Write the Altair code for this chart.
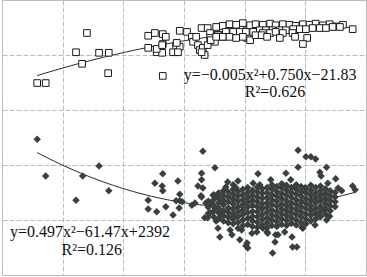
import altair as alt
import pandas as pd

# ---- Series 1: open squares (upper group) ----
top_x = [5.8, 7.2, 14.0, 12.2, 13.2, 16.0, 17.6, 17.5,
         24.1, 25.2, 26.5, 27.0, 26.5, 24.1, 25.5, 26.4, 26.5,
         29.3, 28.7, 29.3, 28.2, 29.0, 25.5, 26.4, 28.8,
         30.5, 31.3, 31.5, 32.3, 32.6, 33.1, 32.9, 33.9, 34.3, 34.3, 35.1, 35.4, 36.4,
         35.6, 36.4, 37.2, 37.9, 38.7, 39.5, 40.4, 39.2, 40.4, 33.4, 32.9, 32.0, 33.9,
         34.4, 35.3, 35.3,
         36.4, 37.5, 38.6, 39.7, 40.9, 41.8, 43.0, 44.2, 45.1, 46.3, 47.4, 48.4, 49.6,
         50.7, 51.7, 52.9, 54.0, 55.0, 56.2,
         36.9, 38.1, 39.2, 40.2, 41.4, 42.5, 43.5, 44.6, 45.8, 46.8, 48.0, 49.1, 50.1,
         51.2, 52.4, 53.4, 54.5, 55.7,
         36.4, 37.5, 38.6, 39.7, 40.9, 41.8, 43.0, 44.2, 45.1, 46.3, 47.9, 50.3,
         49.6, 57.8, 42.8, 43.7, 45.8, 48.3]
top_y = [34.9, 34.9, 44.0, 40.5, 38.4, 40.4, 40.4, 36.7,
         43.5, 44.0, 43.8, 43.3, 42.0, 41.3, 40.5, 40.4, 36.2,
         44.4, 41.6, 41.5, 40.5, 40.5, 41.1, 41.8, 42.2,
         44.2, 43.3, 42.4, 41.8, 40.9, 41.3, 44.9, 44.9, 44.0, 43.1, 42.4, 44.9, 44.9,
         43.6, 43.3, 43.6, 45.1, 45.1, 45.1, 44.5, 44.0, 43.1, 40.0, 40.5, 43.3, 41.8,
         42.7, 43.3, 45.1,
         45.3, 45.6, 45.5, 45.8, 45.4, 45.6, 45.5, 45.7, 45.4, 45.6, 45.5, 45.3, 45.6,
         45.5, 45.7, 45.4, 45.6, 45.2, 45.5,
         44.2, 44.2, 44.2, 44.2, 44.2, 44.5, 44.5, 44.5, 44.5, 44.5, 44.7, 44.7, 44.7,
         44.9, 44.9, 44.9, 45.1, 45.1,
         43.3, 43.3, 43.1, 43.3, 42.7, 43.6, 44.0, 44.0, 44.2, 44.0, 44.0, 43.1,
         42.0, 44.7, 43.6, 43.3, 43.1, 43.3]

# ---- Series 2: filled diamonds (lower group), scattered points ----
bot_x = [5.8, 7.2, 16.0, 13.3, 12.2, 17.6, 24.1, 24.1, 25.5, 27.0, 28.2, 25.2, 26.5, 26.4,
         26.5, 29.0, 29.3, 28.7, 29.3, 29.2,
         33.1, 35.1, 48.8, 50.1, 50.9, 51.7, 48.8, 53.5, 32.9, 42.2, 46.8, 52.4, 52.6, 32.9,
         32.3, 33.1, 44.3, 47.6, 55.0, 38.9, 38.1, 36.9, 38.6, 37.2, 41.4, 42.5, 46.3, 48.4,
         49.9, 53.7, 55.4, 56.0, 57.8, 58.2,
         32.8, 32.9, 31.8, 29.7, 34.8, 35.6, 36.4, 33.6, 34.4, 35.1, 34.3, 33.4, 31.3, 35.3,
         35.9, 37.6, 37.9, 39.2, 40.4, 40.5, 39.5, 41.2, 42.0, 43.7, 35.6, 40.2, 44.6, 47.9,
         48.6, 47.8, 38.9, 43.0, 45.1, 49.6, 52.4, 54.0, 45.0, 45.5, 46.6, 49.4, 51.6, 53.5,
         53.2, 43.8, 33.9, 36.1, 38.1]
bot_y = [24.7, 18.0, 19.8, 18.0, 13.6, 15.3, 13.6, 12.0, 11.5, 12.4, 10.9, 16.7, 18.4, 16.2,
         15.3, 17.1, 14.7, 13.5, 13.5, 12.2,
         22.5, 19.5, 22.7, 21.5, 21.5, 21.1, 19.6, 19.6, 18.5, 18.4, 18.5, 18.7, 18.0, 17.3,
         16.2, 15.8, 17.3, 17.3, 17.5, 17.1, 16.4, 16.0, 15.8, 16.9, 16.7, 16.4, 16.4, 16.2,
         15.8, 16.7, 15.8, 15.3, 16.2, 15.5,
         14.4, 14.2, 13.1, 13.3, 14.5, 14.2, 13.6, 13.1, 13.1, 12.2, 11.3, 10.4, 12.7, 9.8,
         6.9, 8.2, 7.3, 6.4, 5.8, 4.9, 8.2, 7.6, 7.8, 7.8, 8.5, 5.3, 4.0, 5.1,
         5.1, 6.9, 8.5, 8.5, 7.3, 8.5, 10.7, 10.7, 6.0, 7.3, 7.8, 8.7, 9.1, 10.0,
         11.8, 7.6, 10.4, 10.9, 10.7]

# ---- Series 2: the dense core, read column by column ----
blob_x = [34.0, 34.9, 35.7, 36.5, 37.3, 38.1, 38.9, 39.7, 40.5, 41.3, 42.1, 42.9, 43.7, 44.5,
          45.3, 46.1, 46.9, 47.7, 48.5, 49.3, 50.1, 50.9, 51.7, 52.5, 53.3, 54.1, 54.9]
blob_y = [
    [11.2, 12.3, 13.4],
    [10.6, 11.6, 12.6, 13.7, 14.6],
    [10.2, 11.3, 12.1, 13.1, 14.0, 14.9],
    [9.8, 10.8, 11.7, 12.8, 13.6, 14.5, 15.3],
    [9.5, 10.5, 11.4, 12.2, 13.3, 14.2, 15.1],
    [9.3, 10.2, 11.1, 12.0, 12.9, 13.8, 14.7, 15.6],
    [9.6, 10.6, 11.5, 12.4, 13.4, 14.3, 15.2],
    [9.0, 10.0, 11.0, 11.8, 12.8, 13.7, 14.6, 15.6],
    [9.2, 10.3, 11.3, 12.3, 13.2, 14.1, 15.0, 15.9],
    [8.8, 9.8, 10.7, 11.6, 12.7, 13.6, 14.5, 15.4],
    [8.7, 9.6, 10.6, 11.5, 12.4, 13.3, 14.2, 15.1, 16.0],
    [9.1, 10.1, 11.0, 12.0, 12.9, 13.9, 14.8, 15.7],
    [8.6, 9.5, 10.4, 11.4, 12.3, 13.2, 14.1, 15.0, 15.9],
    [9.0, 10.0, 10.9, 11.8, 12.8, 13.7, 14.6, 15.6, 16.4],
    [8.8, 9.7, 10.6, 11.5, 12.5, 13.4, 14.3, 15.2, 16.1],
    [9.2, 10.2, 11.1, 12.0, 12.9, 13.9, 14.8, 15.8, 16.6],
    [9.0, 9.9, 10.8, 11.7, 12.6, 13.5, 14.5, 15.4, 16.3],
    [9.4, 10.4, 11.3, 12.2, 13.1, 14.1, 15.0, 15.9],
    [9.1, 10.0, 11.0, 11.9, 12.8, 13.7, 14.7, 15.6, 16.4],
    [9.6, 10.6, 11.5, 12.4, 13.4, 14.3, 15.2, 16.1],
    [9.3, 10.2, 11.1, 12.1, 13.0, 13.9, 14.9, 15.8],
    [9.8, 10.8, 11.7, 12.6, 13.6, 14.5, 15.4, 16.3],
    [10.2, 11.2, 12.1, 13.1, 14.0, 14.9, 15.9],
    [10.6, 11.6, 12.5, 13.5, 14.4, 15.3, 16.2],
    [11.1, 12.1, 13.0, 13.9, 14.8, 15.7],
    [11.7, 12.6, 13.5, 14.4, 15.3],
    [12.4, 13.3, 14.2, 15.0],
]

# ---- Annotations ----
label_text = ["y=\u22120.005x\u00b2+0.750x\u221221.83", "R\u00b2=0.626",
              "y=0.497x\u00b2\u221261.47x+2392", "R\u00b2=0.126"]
label_x = [44.2, 45.0, 14.5, 14.8]
label_y = [35.5, 32.4, 6.9, 3.7]

df_top = pd.DataFrame({"x": top_x, "y": top_y})
bx = list(bot_x)
by = list(bot_y)
for cx, ys in zip(blob_x, blob_y):
    for v in ys:
        bx.append(cx)
        by.append(v)
df_bot = pd.DataFrame({"x": bx, "y": by})
df_lab = pd.DataFrame({"x": label_x, "y": label_y, "t": label_text})

x_scale = alt.Scale(domain=[0, 60], nice=False, zero=False)
y_scale = alt.Scale(domain=[0, 50], nice=False, zero=False)
x_axis = alt.Axis(values=[0, 10, 20, 30, 40, 50, 60], labels=False, ticks=False,
                  domain=False, grid=True, title=None)
y_axis = alt.Axis(values=[0, 10, 20, 30, 40, 50], labels=False, ticks=False,
                  domain=False, grid=True, title=None)

X = alt.X("x:Q", scale=x_scale, axis=x_axis)
Y = alt.Y("y:Q", scale=y_scale, axis=y_axis)

top_line = alt.Chart(df_top).transform_regression(
    "x", "y", method="poly", order=2
).mark_line(color="#2a2a2a", strokeWidth=1).encode(x=X, y=Y)

bot_line = alt.Chart(df_bot).transform_regression(
    "x", "y", method="poly", order=2
).mark_line(color="#2a2a2a", strokeWidth=1).encode(x=X, y=Y)

top_pts = alt.Chart(df_top).mark_point(
    shape="square", filled=True, fill="white", stroke="#1a1a1a",
    strokeWidth=1, size=44, opacity=1
).encode(x=X, y=Y)

bot_pts = alt.Chart(df_bot).mark_point(
    shape="diamond", filled=True, color="#3a3f3f", size=56, opacity=1
).encode(x=X, y=Y)

labels = alt.Chart(df_lab).mark_text(
    font="Liberation Serif", fontSize=16, align="center", baseline="alphabetic",
    color="#111111"
).encode(x=X, y=Y, text="t:N")

chart = alt.layer(top_line, bot_line, top_pts, bot_pts, labels).properties(
    width=364, height=275,
    padding={"left": 2, "top": 0, "right": 1, "bottom": 2},
    autosize="none",
    background="white",
).configure_view(
    stroke="#b8b8b8", strokeWidth=1
).configure_axis(
    gridColor="#bcbcbc", gridDash=[5, 2], gridWidth=1, gridOpacity=1
)

chart.save("out.html", embed_options={"renderer": "svg", "actions": False})
